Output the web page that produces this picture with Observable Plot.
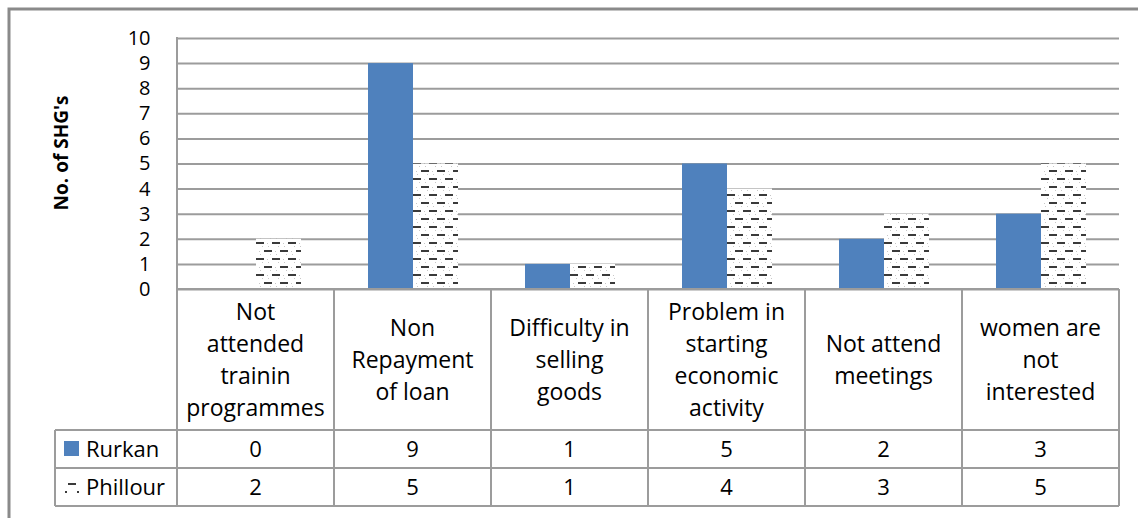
<!DOCTYPE html>
<html><head><meta charset="utf-8">
<script src="https://cdn.jsdelivr.net/npm/d3@7"></script>
<script src="https://cdn.jsdelivr.net/npm/@observablehq/plot@0.6"></script>
<style>body{margin:0;background:#fff} svg{display:block}</style>
</head><body><div id="chart"></div>
<script>
const categories = ["Not attended trainin programmes", "Non Repayment of loan", "Difficulty in selling goods", "Problem in starting economic activity", "Not attend meetings", "women are not interested"];
const categoryLines = [["Not","attended","trainin","programmes"],["Non","Repayment","of loan"],["Difficulty in","selling","goods"],["Problem in","starting","economic","activity"],["Not attend","meetings"],["women are","not","interested"]];
const series = ["Rurkan", "Phillour"];
const rurkan = [0, 9, 1, 5, 2, 3];
const phillour = [2, 5, 1, 4, 3, 5];
const yTicks = [0, 1, 2, 3, 4, 5, 6, 7, 8, 9, 10];
const yTitle = "No. of SHG's";

const FONT = "'Open Sans', 'Noto Sans', sans-serif";
const GRID = "#9c9c9c";

const rows = [];
categories.forEach((c, i) => {
  rows.push({category: c, series: "Rurkan", value: rurkan[i]});
  rows.push({category: c, series: "Phillour", value: phillour[i]});
});

const plot = Plot.plot({
  width: 1138,
  height: 518,
  marginLeft: 177,
  marginRight: 19,
  marginTop: 38,
  marginBottom: 229,
  style: {fontFamily: FONT, background: "transparent"},
  fx: {domain: categories, paddingInner: 0, paddingOuter: 0, axis: null, label: null},
  x: {domain: series, paddingInner: 0, paddingOuter: 0.744, axis: null},
  y: {domain: [0, 10], axis: null},
  marks: [
    Plot.gridY(yTicks, {stroke: GRID, strokeOpacity: 1, strokeWidth: 2}),
    Plot.barY(rows.filter(d => d.series === "Rurkan"), {fx: "category", x: "series", y: "value", fill: "#4f81bd", insetLeft: 0, insetRight: 0}),
    Plot.barY(rows.filter(d => d.series === "Phillour"), {fx: "category", x: "series", y: "value", fill: "url(#phPattern)", insetLeft: 0, insetRight: 0}),
    Plot.axisY(yTicks, {anchor: "left", tickSize: 0, tickPadding: 27, fontSize: 20, fill: "#000", tickFormat: d => String(d), fontFamily: FONT, label: null})
  ]
});

const svg = d3.select(plot);
// pattern
const defs = svg.insert("defs", ":first-child");
const pat = defs.append("pattern").attr("id", "phPattern").attr("patternUnits", "userSpaceOnUse")
  .attr("width", 16).attr("height", 16);
pat.append("rect").attr("width", 16).attr("height", 16).attr("fill", "#fff");
pat.append("rect").attr("x", 0).attr("y", 2).attr("width", 8).attr("height", 2).attr("fill", "#3a3a3a");
pat.append("rect").attr("x", 8).attr("y", 10).attr("width", 8).attr("height", 2).attr("fill", "#3a3a3a");
[[11, 3], [3, 11], [12, 6], [4, 14], [14, 14], [6, 6]].forEach(([x, y]) =>
  pat.append("rect").attr("x", x).attr("y", y).attr("width", 1).attr("height", 1).attr("fill", "#c8c8c8"));

const fx = plot.scale("fx");
const y = plot.scale("y");
const bw = fx.bandwidth;
const left = fx.apply(categories[0]);
const right = fx.apply(categories[categories.length - 1]) + bw;
const y0 = y.apply(0), yTop = y.apply(10);
const yLab = y0 + 141, yR1 = yLab + 38, yR2 = yR1 + 38;
const legLeft = 55;

const g = svg.append("g").attr("stroke", GRID).attr("stroke-width", 2).attr("fill", "none");
// outer frame
g.append("path").attr("d", `M9,518V9H1138`).attr("stroke", "#8a8a8a").attr("stroke-width", 3);
// y axis line
g.append("line").attr("x1", left).attr("x2", left).attr("y1", yTop - 1).attr("y2", yR2);
// horizontal table lines
g.append("line").attr("x1", left).attr("x2", right).attr("y1", y0).attr("y2", y0);
[yLab, yR1, yR2].forEach(yy => g.append("line").attr("x1", legLeft).attr("x2", right).attr("y1", yy).attr("y2", yy));
// legend col left
g.append("line").attr("x1", legLeft).attr("x2", legLeft).attr("y1", yLab).attr("y2", yR2);
// category separators
categories.forEach(c => {
  const xr = fx.apply(c) + bw;
  g.append("line").attr("x1", xr).attr("x2", xr).attr("y1", y0).attr("y2", yR2);
});

const t = svg.append("g").attr("font-family", FONT).attr("font-size", 23).attr("fill", "#000").attr("text-anchor", "middle");
categories.forEach((c, i) => {
  const cx = fx.apply(c) + bw / 2;
  const lines = categoryLines[i];
  const mid = (y0 + yLab) / 2;
  lines.forEach((ln, j) => {
    t.append("text").attr("x", cx).attr("y", mid + (j - (lines.length - 1) / 2) * 32).attr("dy", "0.35em").text(ln);
  });
  t.append("text").attr("x", cx).attr("y", (yLab + yR1) / 2).attr("dy", "0.35em").attr("font-size", 22).text(rurkan[i]);
  t.append("text").attr("x", cx).attr("y", (yR1 + yR2) / 2).attr("dy", "0.35em").attr("font-size", 22).text(phillour[i]);
});
// legend cells
svg.append("rect").attr("x", 64).attr("y", (yLab + yR1) / 2 - 8).attr("width", 15).attr("height", 15).attr("fill", "#4f81bd");
const pk = svg.append("g").attr("fill", "#3a3a3a");
const pky = (yR1 + yR2) / 2;
pk.append("rect").attr("x", 68).attr("y", pky - 4).attr("width", 8).attr("height", 2);
pk.append("rect").attr("x", 65).attr("y", pky + 4).attr("width", 2).attr("height", 2);
pk.append("rect").attr("x", 77).attr("y", pky + 4).attr("width", 2).attr("height", 2);
t.append("text").attr("x", 86).attr("y", (yLab + yR1) / 2).attr("dy", "0.35em").attr("text-anchor", "start").attr("font-size", 22).text(series[0]);
t.append("text").attr("x", 86).attr("y", (yR1 + yR2) / 2).attr("dy", "0.35em").attr("text-anchor", "start").attr("font-size", 22).text(series[1]);
// y title
svg.append("text").attr("transform", `translate(68,153) rotate(-90)`)
  .attr("text-anchor", "middle").attr("font-family", FONT).attr("font-weight", "bold").attr("font-size", 19).text(yTitle);

document.getElementById("chart").appendChild(plot);
</script>
</body></html>
